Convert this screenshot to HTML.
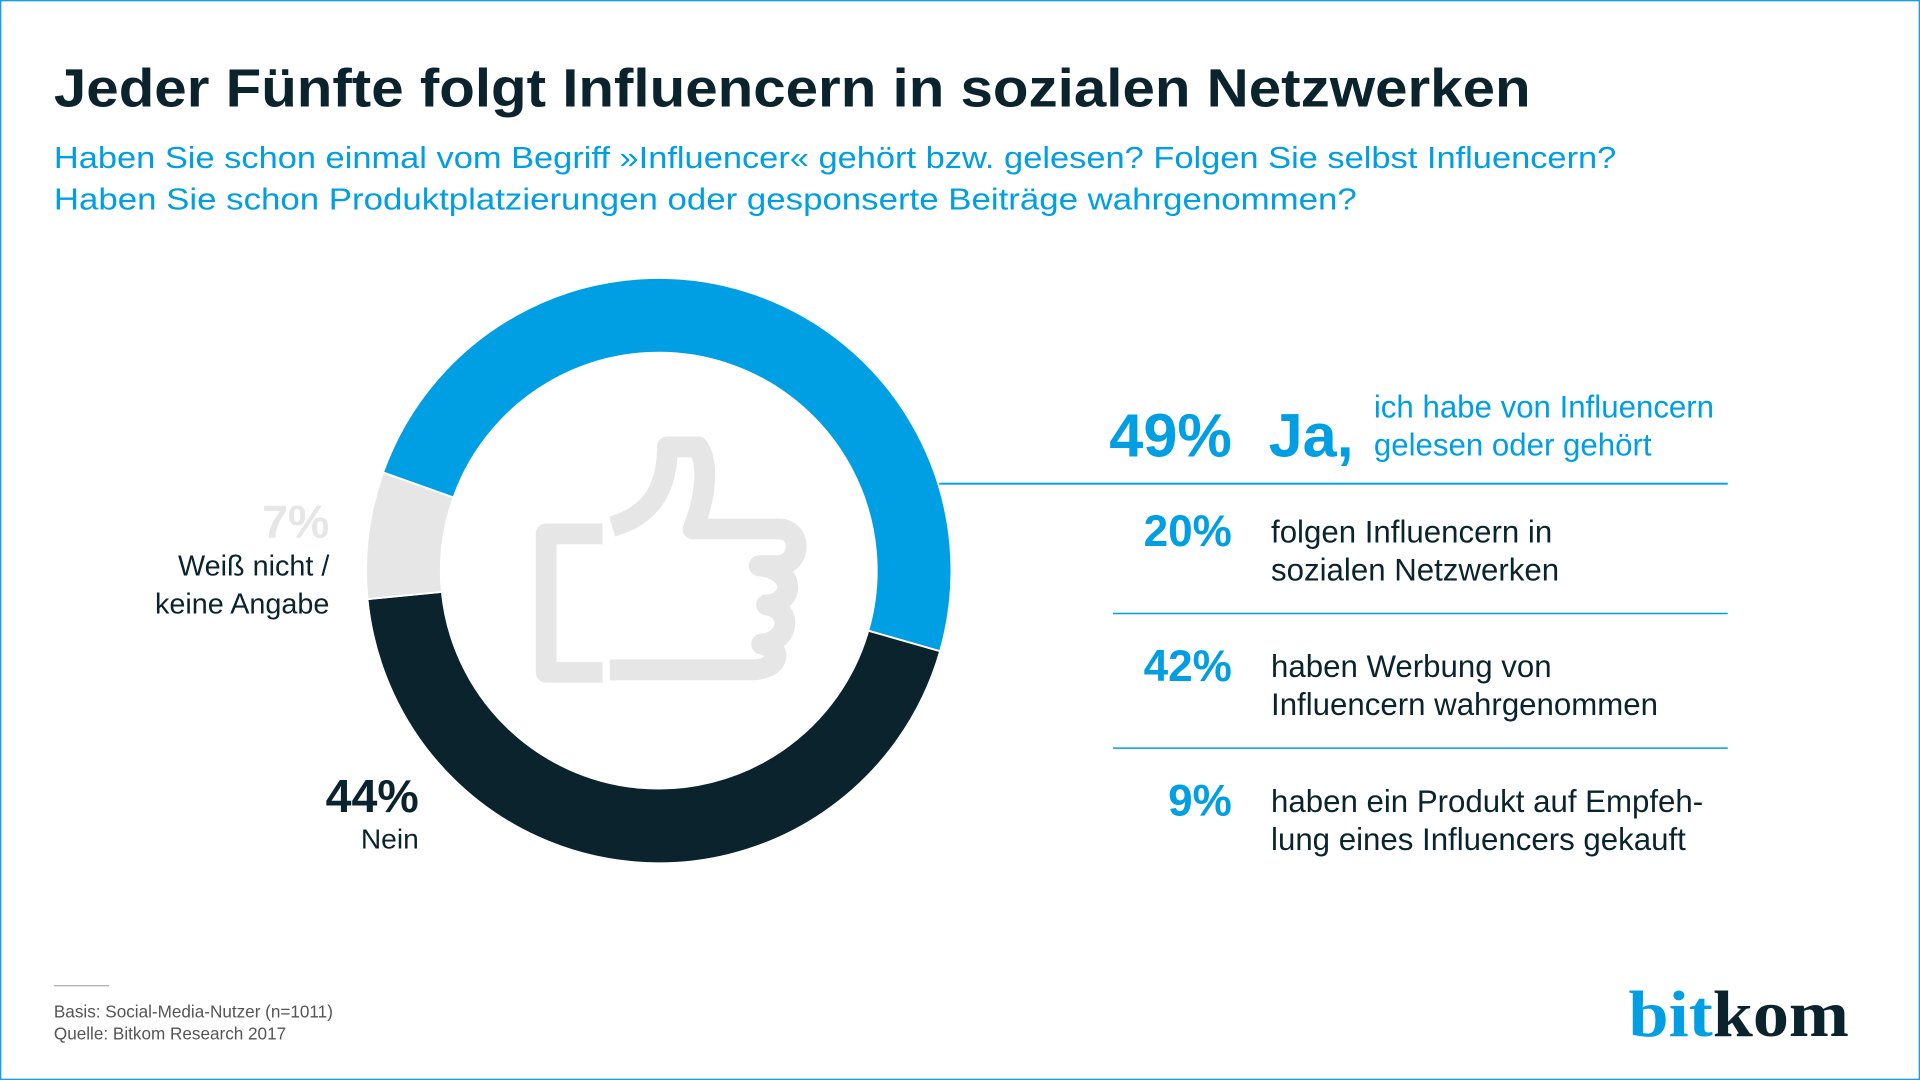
<!DOCTYPE html>
<html><head><meta charset="utf-8"><style>
html,body{margin:0;padding:0;background:#fff;}
svg{display:block;}
text{font-family:"Liberation Sans","DejaVu Sans",sans-serif;}
</style></head><body>
<svg id="chart" width="1920" height="1080" viewBox="0 0 1568 882" xmlns="http://www.w3.org/2000/svg">
<rect x="0.5" y="0.5" width="1567" height="881" fill="#fff" stroke="#1a9fdc" stroke-width="1.2"/>
<text x="44" y="87" font-size="44" font-weight="bold" fill="#0a232d" textLength="1206" lengthAdjust="spacingAndGlyphs">Jeder Fünfte folgt Influencern in sozialen Netzwerken</text>
<text x="44" y="137" font-size="25" fill="#009fe3" textLength="1276" lengthAdjust="spacingAndGlyphs">Haben Sie schon einmal vom Begriff »Influencer« gehört bzw. gelesen? Folgen Sie selbst Influencern?</text>
<text x="44" y="171" font-size="25" fill="#009fe3" textLength="1064" lengthAdjust="spacingAndGlyphs">Haben Sie schon Produktplatzierungen oder gesponserte Beiträge wahrgenommen?</text>
<g id="donut"></g>
<g fill="none" stroke="#e6e6e6" stroke-width="17" stroke-linejoin="round">
<path d="M492 436 H446 V549 H492"/>
<path d="M500 430 C535 420 545 395 545 365 H570 C580 380 575 410 566 432 H636 C655 432 655 460 636 462 H620 C650 465 650 492 626 494 C648 497 645 524 622 526 C642 530 635 548 612 547 H498"/>
</g>
<text x="1006" y="373" font-size="50" font-weight="bold" fill="#009fe3" text-anchor="end">49%</text>
<text x="1036" y="373" font-size="50" font-weight="bold" fill="#009fe3">Ja,</text>
<text x="1122" y="341" font-size="25.5" fill="#009fe3">ich habe von Influencern</text>
<text x="1122" y="372" font-size="25.5" fill="#009fe3">gelesen oder gehört</text>
<line x1="767" y1="395" x2="1411" y2="395" stroke="#009fe3" stroke-width="1.5"/>
<g id="details"></g>
<text x="342" y="663" font-size="38" font-weight="bold" fill="#0a232d" text-anchor="end">44%</text>
<text x="342" y="693" font-size="23" fill="#0a232d" text-anchor="end">Nein</text>
<text x="269" y="439" font-size="38" font-weight="bold" fill="#e6e6e6" text-anchor="end">7%</text>
<text x="269" y="470" font-size="23.5" fill="#0a232d" text-anchor="end">Weiß nicht /</text>
<text x="269" y="501" font-size="23.5" fill="#0a232d" text-anchor="end">keine Angabe</text>
<line x1="44" y1="805" x2="89" y2="805" stroke="#aaa" stroke-width="1"/>
<text x="44" y="831" font-size="14" fill="#555">Basis: Social-Media-Nutzer (n=1011)</text>
<text x="44" y="849" font-size="14" fill="#555">Quelle: Bitkom Research 2017</text>
<text x="1330" y="846" font-size="54" font-weight="bold" style="font-family:'Liberation Serif',serif" textLength="180" lengthAdjust="spacingAndGlyphs"><tspan fill="#009fe3">bit</tspan><tspan fill="#0a232d">kom</tspan></text>
</svg>
<script>
const categories = ['Ja', 'Nein', 'Weiß nicht / keine Angabe'];
const shares = [49, 44, 7];
const sliceColors = ['#009fe3', '#0a232d', '#e6e6e6'];
const detailValues = [20, 42, 9];
const detailLines1 = ['folgen Influencern in', 'haben Werbung von', 'haben ein Produkt auf Empfeh-'];
const detailLines2 = ['sozialen Netzwerken', 'Influencern wahrgenommen', 'lung eines Influencers gekauft'];

const NS = 'http://www.w3.org/2000/svg';
const cx = 538, cy = 466, rO = 239, rI = 178;
const startDeg = 199.6;
function pt(r, deg){ const a = deg*Math.PI/180; return [cx + r*Math.cos(a), cy + r*Math.sin(a)]; }
const total = shares.reduce((a,b)=>a+b,0);
let ang = startDeg;
const donut = document.getElementById('donut');
shares.forEach((v,i)=>{
  const sweep = v/total*360;
  const a0 = ang, a1 = ang + sweep;
  const large = sweep > 180 ? 1 : 0;
  const p0 = pt(rO,a0), p1 = pt(rO,a1), p2 = pt(rI,a1), p3 = pt(rI,a0);
  const d = `M${p0} A${rO} ${rO} 0 ${large} 1 ${p1} L${p2} A${rI} ${rI} 0 ${large} 0 ${p3} Z`;
  const path = document.createElementNS(NS,'path');
  path.setAttribute('d', d);
  path.setAttribute('fill', sliceColors[i]);
  path.setAttribute('stroke', '#fff');
  path.setAttribute('stroke-width', '1.5');
  
  
  donut.appendChild(path);
  ang = a1;
});
const det = document.getElementById('details');
const rowY = [443, 553, 663];
detailValues.forEach((v,i)=>{
  const y = rowY[i];
  const t = document.createElementNS(NS,'text');
  t.setAttribute('x', 1006); t.setAttribute('y', y+3);
  t.setAttribute('font-size', '36'); t.setAttribute('font-weight', 'bold');
  t.setAttribute('fill', '#009fe3'); t.setAttribute('text-anchor', 'end');
  t.textContent = v + '%';
  
  
  det.appendChild(t);
  const l1 = document.createElementNS(NS,'text');
  l1.setAttribute('x', 1038); l1.setAttribute('y', y);
  l1.setAttribute('font-size', '25.5'); l1.setAttribute('fill', '#0a232d');
  l1.textContent = detailLines1[i];
  
  
  det.appendChild(l1);
  const l2 = document.createElementNS(NS,'text');
  l2.setAttribute('x', 1038); l2.setAttribute('y', y+31);
  l2.setAttribute('font-size', '25.5'); l2.setAttribute('fill', '#0a232d');
  l2.textContent = detailLines2[i];
  
  
  det.appendChild(l2);
  if (i < detailValues.length - 1) {
    const ln = document.createElementNS(NS,'line');
    ln.setAttribute('x1', 909); ln.setAttribute('x2', 1411);
    ln.setAttribute('y1', y+58); ln.setAttribute('y2', y+58);
    ln.setAttribute('stroke', '#009fe3'); ln.setAttribute('stroke-width', '1.2');
    
    
    det.appendChild(ln);
  }
});
</script>
</body></html>
